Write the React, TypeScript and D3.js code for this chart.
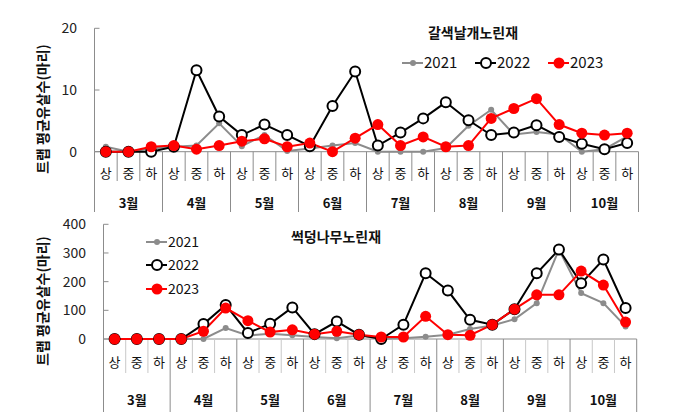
import React from "react";
import * as d3 from "d3";

const months = ["3월", "4월", "5월", "6월", "7월", "8월", "9월", "10월"];
const periods = ["상", "중", "하"];
const years = ["2021", "2022", "2023"];

// 갈색날개노린재
const brown2021 = [0.8, 0, 0.5, 0.8, 1.0, 4.6, 0.9, 2.7, 0.1, 0.5, 1.0, 1.4, 0, 0, 0, 0.6, 4.2, 6.8, 2.8, 3.2, 2.8, 0, 0.4, 2.5];
const brown2022 = [0, 0, 0, 0.8, 13.2, 5.7, 2.7, 4.4, 2.7, 0.9, 7.4, 13.0, 1.0, 3.1, 5.4, 8.0, 5.1, 2.7, 3.1, 4.3, 2.4, 1.3, 0.4, 1.4];
const brown2023 = [0, 0, 0.8, 1.0, 0.4, 1.0, 1.7, 2.1, 0.8, 1.4, 0, 2.2, 4.4, 1.0, 2.4, 0.8, 1.0, 5.4, 7.0, 8.6, 4.4, 3.0, 2.7, 3.0];

// 썩덩나무노린재
const stink2021 = [0, 0, 0, 0, 0, 38, 12, 18, 13, 7, 3, 12, 1, 3, 8, 15, 35, 47, 69, 125, 312, 160, 125, 44];
const stink2022 = [0, 0, 0, 0, 52, 119, 21, 53, 110, 17, 61, 15, 0, 50, 229, 169, 67, 50, 104, 229, 312, 194, 277, 108];
const stink2023 = [0, 0, 0, 0, 27, 108, 64, 24, 32, 17, 27, 15, 7, 7, 79, 15, 13, 50, 104, 154, 154, 237, 188, 59];

const brownTicks = [0, 10, 20];
const stinkTicks = [0, 100, 200, 300, 400];

const FONT = "'Noto Sans CJK KR', 'Noto Sans', sans-serif";
const yLabel = "트랩 평균유살수(마리)";

const cats = months.flatMap((m) => periods.map((p) => `${m}-${p}`));

function Marker({ year, x, y }) {
  if (year === "2021") return <circle cx={x} cy={y} r={3} fill="#8c8c8c" />;
  if (year === "2022") return <circle cx={x} cy={y} r={5} fill="#fff" stroke="#000" strokeWidth={2} />;
  return <circle cx={x} cy={y} r={5.5} fill="#f00" />;
}

const lineColor = { "2021": "#8c8c8c", "2022": "#000", "2023": "#f00" };

function Panel(props) {
  const { series, ticks, left, right, top, base, subBottom, monthBottom, subLabelY, monthLabelY, tickRight, labelY, title, titleX, titleY, legend, subColor } = props;
  const x = d3.scaleBand().domain(cats).range([left, right]);
  const y = d3.scaleLinear().domain([0, ticks[ticks.length - 1]]).range([base, top]);
  const line = d3
    .line()
    .x((d, i) => x(cats[i]) + x.bandwidth() / 2)
    .y((d) => y(d));

  return (
    <g>
      {/* y axis */}
      <line x1={left} x2={left} y1={top} y2={base} stroke="#8c8c8c" />
      {ticks.map((t) => (
        <g key={t}>
          <line x1={left} x2={left + 5} y1={y(t)} y2={y(t)} stroke="#8c8c8c" />
          <text x={tickRight} y={y(t)} dy="0.35em" textAnchor="end" fontSize={14} fill="#222">
            {t}
          </text>
        </g>
      ))}
      <text
        transform={`translate(43,${labelY}) rotate(-90)`}
        textAnchor="middle"
        dy="0.35em"
        fontSize={14}
        fontWeight="bold"
        fill="#111"
      >
        {yLabel}
      </text>

      {/* x axis with grouped categories */}
      <line x1={left} x2={right} y1={base} y2={base} stroke="#8c8c8c" />
      {cats.map((c, i) => (
        <g key={c}>
          {i % 3 !== 0 && (
            <line x1={x(c)} x2={x(c)} y1={base} y2={subBottom} stroke={subColor} />
          )}
          <text x={x(c) + x.bandwidth() / 2} y={subLabelY} dy="0.35em" textAnchor="middle" fontSize={13} fill="#111">
            {periods[i % 3]}
          </text>
        </g>
      ))}
      {months.map((m, i) => {
        const x0 = x(cats[i * 3]);
        return (
          <g key={m}>
            <line x1={x0} x2={x0} y1={base} y2={monthBottom} stroke="#8c8c8c" />
            <text x={x0 + x.bandwidth() * 1.5} y={monthLabelY} dy="0.35em" textAnchor="middle" fontSize={13} fontWeight="bold" fill="#111">
              {m}
            </text>
          </g>
        );
      })}
      <line x1={right} x2={right} y1={base} y2={monthBottom} stroke="#8c8c8c" />

      {/* series */}
      {years.map((yr, k) => (
        <path key={yr} d={line(series[k])} fill="none" stroke={lineColor[yr]} strokeWidth={2} />
      ))}
      {years.map((yr, k) =>
        series[k].map((v, i) => (
          <Marker key={`${yr}-${i}`} year={yr} x={x(cats[i]) + x.bandwidth() / 2} y={y(v)} />
        ))
      )}

      {/* title */}
      <text x={titleX} y={titleY} dy="0.35em" textAnchor="middle" fontSize={14} fontWeight="bold" fill="#111">
        {title}
      </text>

      {/* legend */}
      {years.map((yr, k) => {
        const p = legend[k];
        return (
          <g key={yr}>
            <line x1={p.x} x2={p.x + 21} y1={p.y} y2={p.y} stroke={lineColor[yr]} strokeWidth={2} />
            <Marker year={yr} x={p.x + 11} y={p.y} />
            <text x={p.x + 22} y={p.y} dy="0.35em" fontSize={p.size} fill="#111">
              {yr}
            </text>
          </g>
        );
      })}
    </g>
  );
}

export default function App() {
  return (
    <svg
      width={687}
      height={420}
      style={{ position: "absolute", left: 0, top: 0, background: "#fff" }}
      fontFamily={FONT}
    >
      <Panel
        series={[brown2021, brown2022, brown2023]}
        ticks={brownTicks}
        left={94.5}
        right={638.5}
        top={28.3}
        base={151.7}
        subBottom={181}
        monthBottom={212}
        subLabelY={173}
        monthLabelY={203}
        tickRight={77}
        labelY={109}
        title="갈색날개노린재"
        titleX={473}
        titleY={33}
        subColor="#8c8c8c"
        legend={[
          { x: 402, y: 63, size: 15 },
          { x: 475, y: 63, size: 15 },
          { x: 548, y: 63, size: 15 },
        ]}
      />
      <Panel
        series={[stink2021, stink2022, stink2023]}
        ticks={stinkTicks}
        left={103.5}
        right={636.7}
        top={224.3}
        base={339}
        subBottom={373}
        monthBottom={412}
        subLabelY={362}
        monthLabelY={400}
        tickRight={86}
        labelY={301}
        title="썩덩나무노린재"
        titleX={336}
        titleY={237}
        subColor="#c8c8c8"
        legend={[
          { x: 146, y: 242, size: 14 },
          { x: 146, y: 265, size: 14 },
          { x: 146, y: 289, size: 14 },
        ]}
      />
    </svg>
  );
}
